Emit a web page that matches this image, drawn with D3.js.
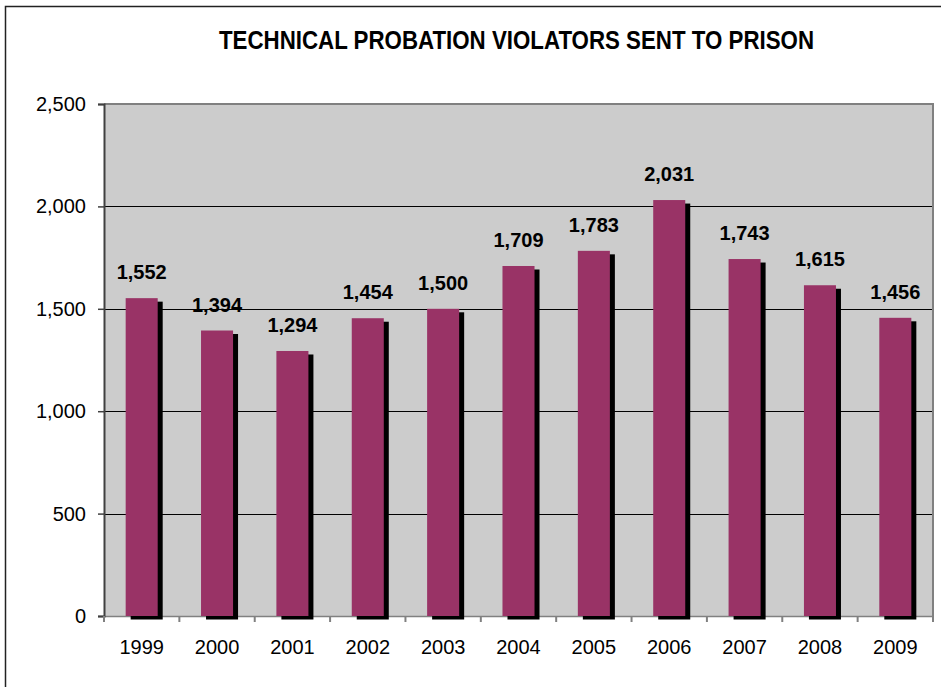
<!DOCTYPE html>
<html>
<head>
<meta charset="utf-8">
<script src="https://cdn.jsdelivr.net/npm/d3@7"></script>
<style>
  html, body { margin: 0; padding: 0; background: #fff; }
  svg { display: block; }
</style>
</head>
<body>
<svg id="chart" width="941" height="687"></svg>
<script>
const years = ["1999","2000","2001","2002","2003","2004","2005","2006","2007","2008","2009"];
const values = [1552, 1394, 1294, 1454, 1500, 1709, 1783, 2031, 1743, 1615, 1456];
const yTicks = [0, 500, 1000, 1500, 2000, 2500];
const title = "TECHNICAL PROBATION VIOLATORS SENT TO PRISON";

const svg = d3.select("#chart");
const plot = { left: 104, top: 104, right: 933, bottom: 616 };

// outer chart border (cropped on right/bottom)
svg.append("rect")
  .attr("x", 5.5).attr("y", 6.5).attr("width", 1000).attr("height", 1000)
  .attr("fill", "none").attr("stroke", "#222").attr("stroke-width", 1.5);

// title
svg.append("text")
  .attr("x", 219).attr("y", 49)
  .attr("textLength", 595).attr("lengthAdjust", "spacingAndGlyphs")
  .attr("font-family", "'Liberation Sans Narrow', 'Arial Narrow', 'Liberation Sans', Arial, sans-serif")
  .attr("font-size", 26).attr("font-weight", "bold").attr("fill", "#000")
  .text(title);

const x = d3.scaleBand().domain(years).range([plot.left, plot.right]).paddingInner(0.575).paddingOuter(0.2875);
const y = d3.scaleLinear().domain([0, 2500]).range([plot.bottom, plot.top]);
const xOuter = d3.scaleBand().domain(years).range([plot.left, plot.right]);

// plot area background
svg.append("rect")
  .attr("x", plot.left).attr("y", plot.top)
  .attr("width", plot.right - plot.left).attr("height", plot.bottom - plot.top)
  .attr("fill", "#cccccc");

// gridlines
svg.append("g").selectAll("line")
  .data(yTicks.filter(d => d > 0 && d < 2500))
  .join("line")
  .attr("x1", plot.left).attr("x2", plot.right)
  .attr("y1", d => Math.round(y(d)) + 0.5).attr("y2", d => Math.round(y(d)) + 0.5)
  .attr("stroke", "#000").attr("stroke-width", 1);

// plot border top/right
svg.append("path")
  .attr("d", `M${plot.left},${plot.top} H${plot.right} V${plot.bottom}`)
  .attr("fill", "none").attr("stroke", "#808080").attr("stroke-width", 2);

// bottom axis line
svg.append("line")
  .attr("x1", plot.left).attr("x2", plot.right)
  .attr("y1", plot.bottom + 0.5).attr("y2", plot.bottom + 0.5)
  .attr("stroke", "#808080").attr("stroke-width", 1.5);

// shadows
const sdx = 5, sdy = 3.5;
svg.append("g").selectAll("rect")
  .data(values)
  .join("rect")
  .attr("x", (d, i) => x(years[i]) + sdx)
  .attr("y", d => y(d) + sdy)
  .attr("width", x.bandwidth())
  .attr("height", d => y(0) - y(d))
  .attr("fill", "#000");

// bars
svg.append("g").selectAll("rect")
  .data(values)
  .join("rect")
  .attr("x", (d, i) => x(years[i]))
  .attr("y", d => y(d))
  .attr("width", x.bandwidth())
  .attr("height", d => y(0) - y(d))
  .attr("fill", "#993366");

// value labels
svg.append("g").selectAll("text")
  .data(values)
  .join("text")
  .attr("x", (d, i) => x(years[i]) + x.bandwidth() / 2)
  .attr("y", d => y(d) - 19)
  .attr("text-anchor", "middle")
  .attr("font-family", "'Liberation Sans', Arial, sans-serif")
  .attr("font-weight", "bold").attr("font-size", 20)
  .text(d => d3.format(",")(d));

// y axis
const yAxis = d3.axisLeft(y).tickValues(yTicks).tickFormat(d3.format(",")).tickSize(6).tickPadding(12);
const gy = svg.append("g").attr("transform", `translate(${plot.left},0)`).call(yAxis);
gy.select(".domain").attr("stroke", "#404040").attr("stroke-width", 2);
gy.selectAll(".tick line").attr("stroke", "#404040").attr("stroke-width", 1.5);
gy.selectAll(".tick text")
  .attr("font-family", "'Liberation Sans', Arial, sans-serif")
  .attr("font-size", 20).attr("fill", "#000");

// x axis (category labels)
const xAxis = d3.axisBottom(xOuter).tickSize(0).tickPadding(0);
const gx = svg.append("g").attr("transform", `translate(0,${plot.bottom})`).call(xAxis);
gx.select(".domain").remove();
gx.selectAll(".tick text")
  .attr("y", 38).attr("dy", 0)
  .attr("font-family", "'Liberation Sans', Arial, sans-serif")
  .attr("font-size", 20).attr("fill", "#000");

// x tick marks at category boundaries
const boundaries = years.map(c => xOuter(c)).concat([plot.right]);
svg.append("g").selectAll("line")
  .data(boundaries)
  .join("line")
  .attr("x1", d => d).attr("x2", d => d)
  .attr("y1", plot.bottom).attr("y2", plot.bottom + 6)
  .attr("stroke", "#808080").attr("stroke-width", 2);
</script>
</body>
</html>
